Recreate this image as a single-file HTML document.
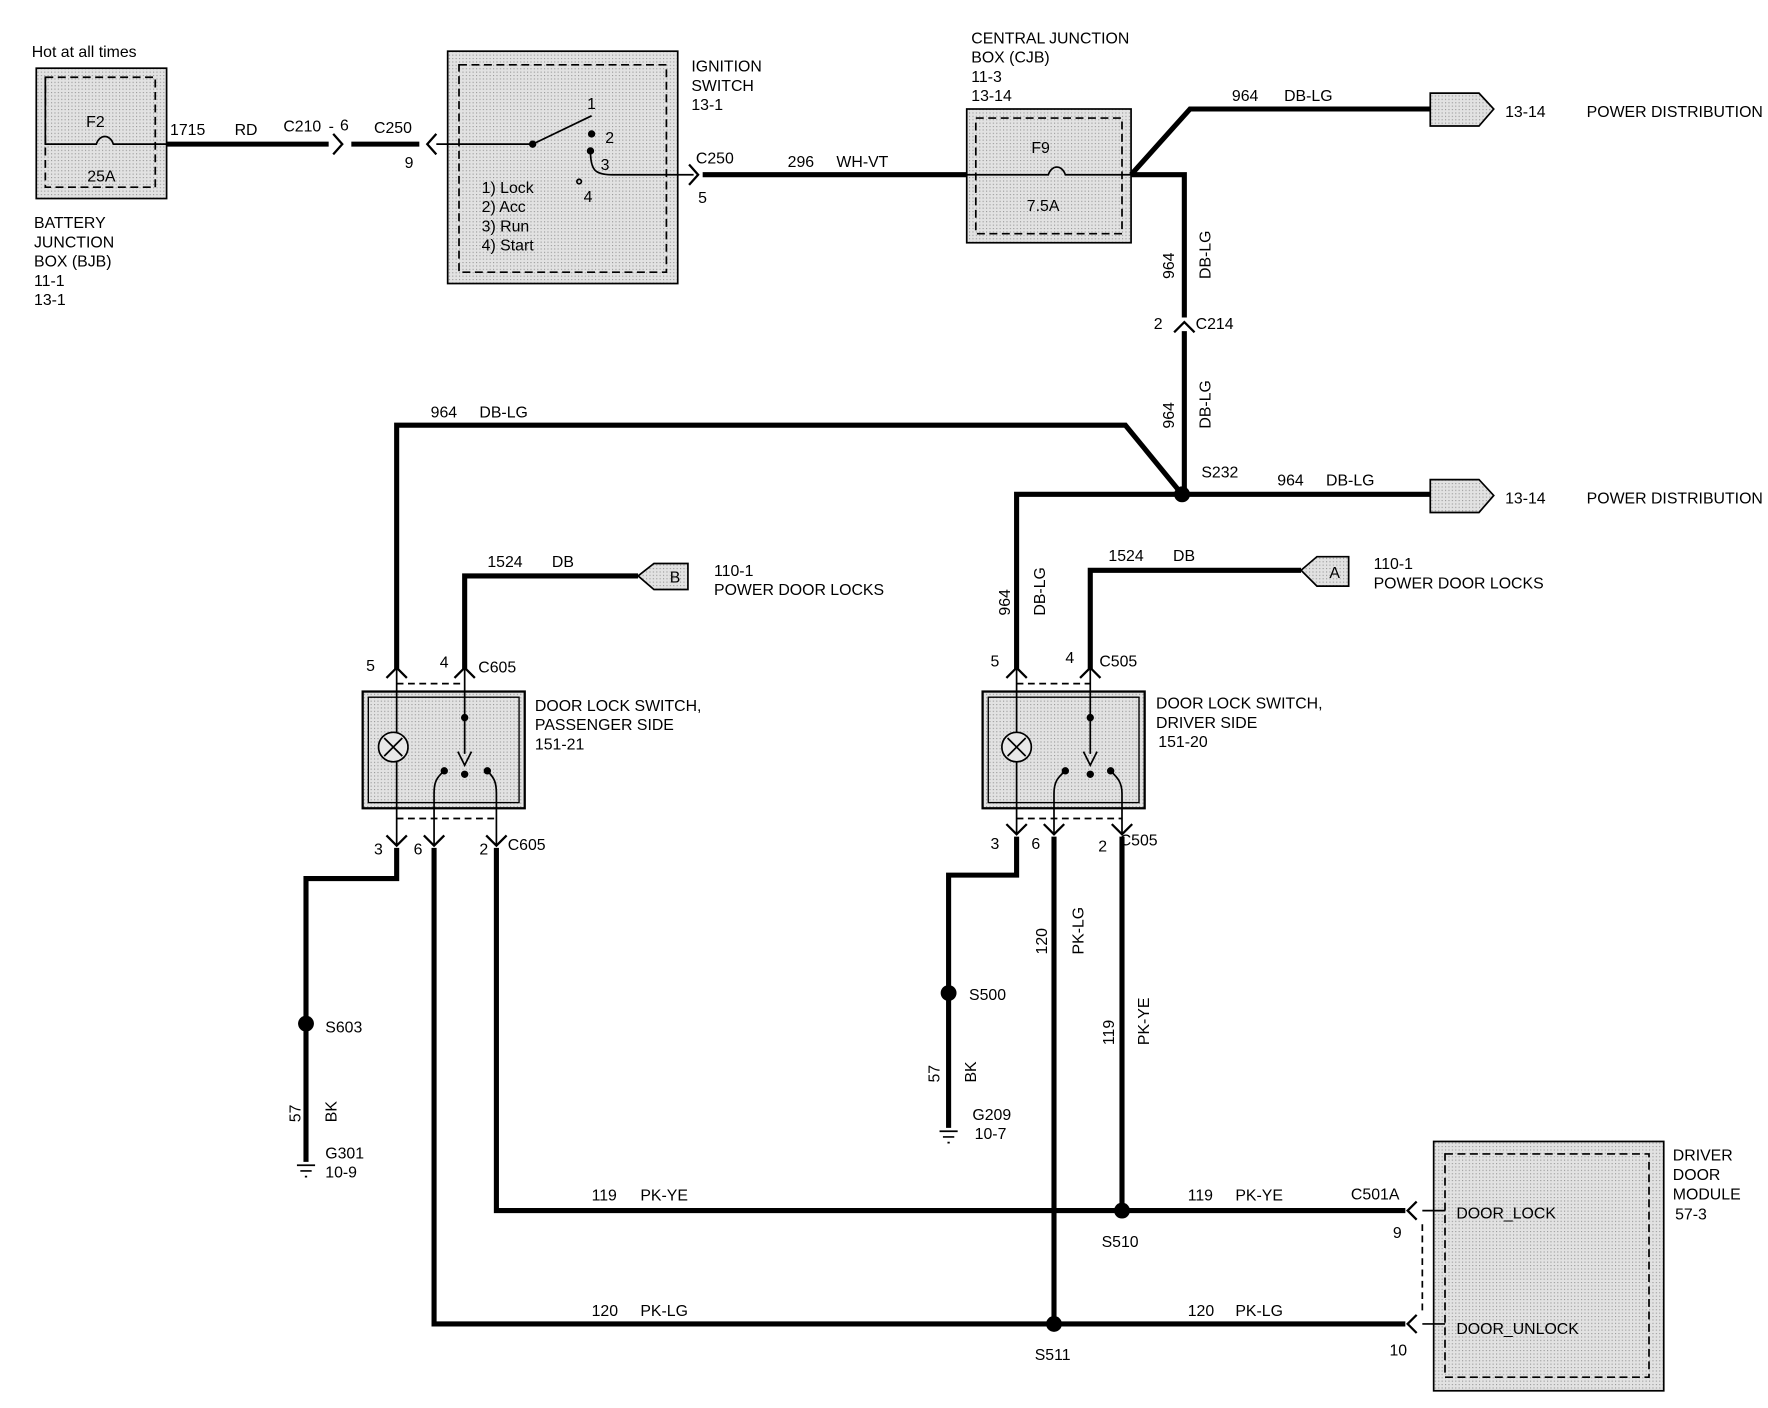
<!DOCTYPE html>
<html><head><meta charset="utf-8"><style>
html,body{margin:0;padding:0;background:#fff}
svg{display:block}
text{font-family:"Liberation Sans",Arial,sans-serif;font-size:14px;fill:#000}
</style></head><body>
<svg width="1768" height="1408" viewBox="0 0 1560 1242" xmlns="http://www.w3.org/2000/svg">
<defs>
<pattern id="dot" width="3" height="3" patternUnits="userSpaceOnUse"><rect width="3" height="3" fill="#e2e2e2"/><rect width="1" height="1" fill="#9a9a9a"/></pattern>
</defs>
<g fill="none" stroke="#000">
<!-- boxes -->
<rect x="32" y="60" width="115" height="115" fill="url(#dot)" stroke-width="1.5"/>
<rect x="40" y="68" width="97" height="97" stroke-dasharray="7,4" stroke-width="1.5"/>
<rect x="395" y="45" width="203" height="205" fill="url(#dot)" stroke-width="1.5"/>
<rect x="405" y="57" width="183" height="183" stroke-dasharray="7,4" stroke-width="1.5"/>
<rect x="853" y="96" width="145" height="118" fill="url(#dot)" stroke-width="1.5"/>
<rect x="861" y="104" width="129" height="102" stroke-dasharray="7,4" stroke-width="1.5"/>
<rect x="1265" y="1007" width="203" height="220" fill="url(#dot)" stroke-width="1.5"/>
<rect x="1275" y="1018" width="180" height="197" stroke-dasharray="7,4" stroke-width="1.5"/>
<rect x="320" y="610" width="143" height="103" fill="url(#dot)" stroke-width="2"/>
<rect x="325" y="615" width="133" height="93" stroke-width="1.2"/>
<rect x="867" y="610" width="143" height="103" fill="url(#dot)" stroke-width="2"/>
<rect x="872" y="615" width="133" height="93" stroke-width="1.2"/>
<!-- connector pentagons -->
<polygon points="1262,82 1305,82 1318,96 1305,111 1262,111" fill="url(#dot)" stroke-width="1.5"/>
<polygon points="1262,423 1305,423 1318,437 1305,452 1262,452" fill="url(#dot)" stroke-width="1.5"/>
<polygon points="563,508 577,497 607,497 607,520 577,520" fill="url(#dot)" stroke-width="1.5"/>
<polygon points="1148,503 1162,491 1190,491 1190,517 1162,517" fill="url(#dot)" stroke-width="1.5"/>

<!-- thin internal lines -->
<g stroke-width="1.5">
<path d="M40,68 V127 H85 C88,118 97,118 100,127 H147"/>
<path d="M385,127 H470 L522,102"/>
<circle cx="522" cy="118" r="2.5" fill="#000"/>
<path d="M521,133 C521,150 525,154 540,154 H612"/>
<circle cx="521" cy="133" r="2.5" fill="#000"/>
<circle cx="511" cy="160" r="2" />
<circle cx="470" cy="127" r="2.5" fill="#000"/>
<path d="M853,154 H925 C928,145 937,145 940,154 H998"/>
<path d="M1255,1068 H1275 M1255,1168 H1275"/>
<path d="M1255,1080 V1160" stroke-dasharray="6,4"/>
<!-- passenger switch internals -->
<path d="M350,590 V745 M410,590 V665 M392,680 C385,686 383,690 383,700 V745 M430,680 C436,686 438,690 438,700 V745"/>
<circle cx="347" cy="659" r="13" fill="#e8e8e8"/>
<path d="M339,651 L355,667 M355,651 L339,667"/>
<path d="M404,663 L410,675 L416,663"/>
<circle cx="410" cy="633" r="2.5" fill="#000"/><circle cx="392" cy="680" r="2.5" fill="#000"/><circle cx="430" cy="680" r="2.5" fill="#000"/><circle cx="410" cy="683" r="2.5" fill="#000"/>
<path d="M350,603 H410 M350,722 H438" stroke-dasharray="6,4"/>
<!-- driver switch internals -->
<path d="M897,590 V735 M962,590 V665 M940,680 C933,686 930,690 930,700 V735 M980,680 C986,686 990,690 990,700 V735"/>
<circle cx="897" cy="659" r="13" fill="#e8e8e8"/>
<path d="M889,651 L905,667 M905,651 L889,667"/>
<path d="M956,663 L962,675 L968,663"/>
<circle cx="962" cy="633" r="2.5" fill="#000"/><circle cx="940" cy="680" r="2.5" fill="#000"/><circle cx="980" cy="680" r="2.5" fill="#000"/><circle cx="962" cy="683" r="2.5" fill="#000"/>
<path d="M897,603 H962 M897,722 H990" stroke-dasharray="6,4"/>
<!-- grounds -->
<path d="M262,1028 H278 M265,1033 H275 M269,1038 H271"/>
<path d="M829,998 H845 M832,1003 H842 M836,1008 H838"/>
</g>

<!-- thick wires -->
<g stroke-width="4.5" stroke-linejoin="miter">
<path d="M147,127 H290 M310,127 H370"/>
<path d="M620,154 H853"/>
<path d="M998,154 L1050,96 H1262"/>
<path d="M998,154 H1045 V280 M1045,292 V436"/>
<path d="M1043,436 L993,375 H350 V590"/>
<path d="M1043,436 H1262"/>
<path d="M1043,436 H897 V590"/>
<path d="M410,590 V508 H563"/>
<path d="M962,590 V503 H1148"/>
<path d="M350,748 V775 H270 V1025"/>
<path d="M383,748 V1168 H1240"/>
<path d="M438,748 V1068 H1240"/>
<path d="M897,738 V772 H837 V995"/>
<path d="M930,738 V1168"/>
<path d="M990,738 V1068"/>
</g>
<!-- chevrons -->
<g stroke-width="2">
<path d="M294,118 L302,127 L294,136"/>
<path d="M385,118 L377,127 L385,136"/>
<path d="M608,145 L616,154 L608,163"/>
<path d="M1036,293 L1045,284 L1054,293"/>
<path d="M341,598 L350,589 L359,598 M401,598 L410,589 L419,598"/>
<path d="M888,598 L897,589 L906,598 M953,598 L962,589 L971,598"/>
<path d="M341,737 L350,746 L359,737 M374,737 L383,746 L392,737 M429,737 L438,746 L447,737"/>
<path d="M888,727 L897,736 L906,727 M921,727 L930,736 L939,727 M981,727 L990,736 L999,727"/>
<path d="M1250,1060 L1242,1068 L1250,1076 M1250,1160 L1242,1168 L1250,1176"/>
</g>
</g>
<!-- splice dots -->
<g fill="#000">
<circle cx="1043" cy="436" r="7"/>
<circle cx="270" cy="903" r="7"/>
<circle cx="837" cy="876" r="7"/>
<circle cx="990" cy="1068" r="7"/>
<circle cx="930" cy="1168" r="7"/>
</g>

<!-- text -->
<text x="28" y="50">Hot at all times</text>
<text x="76" y="112">F2</text>
<text x="77" y="160">25A</text>
<text x="30" y="201">BATTERY</text><text x="30" y="218">JUNCTION</text><text x="30" y="235">BOX (BJB)</text><text x="30" y="252">11-1</text><text x="30" y="269">13-1</text>
<text x="150" y="119">1715</text><text x="207" y="119">RD</text>
<text x="250" y="116">C210</text><text x="290" y="116">-</text><text x="300" y="115">6</text><text x="330" y="117">C250</text>
<text x="357" y="148">9</text>
<text x="518" y="96">1</text><text x="534" y="126">2</text><text x="530" y="150">3</text><text x="515" y="178">4</text>
<text x="425" y="170">1) Lock</text><text x="425" y="187">2) Acc</text><text x="425" y="204">3) Run</text><text x="425" y="221">4) Start</text>
<text x="610" y="63">IGNITION</text><text x="610" y="80">SWITCH</text><text x="610" y="97">13-1</text>
<text x="614" y="144">C250</text><text x="616" y="179">5</text>
<text x="695" y="147">296</text><text x="738" y="147">WH-VT</text>
<text x="857" y="38">CENTRAL  JUNCTION</text><text x="857" y="55">BOX (CJB)</text><text x="857" y="72">11-3</text><text x="857" y="89">13-14</text>
<text x="910" y="135">F9</text><text x="906" y="186">7.5A</text>
<text x="1087" y="89">964</text><text x="1133" y="89">DB-LG</text>
<text x="1328" y="103">13-14</text><text x="1400" y="103">POWER DISTRIBUTION</text>
<text transform="translate(1036,246) rotate(-90)">964</text>
<text transform="translate(1068,246) rotate(-90)">DB-LG</text>
<text x="1018" y="290">2</text><text x="1055" y="290">C214</text>
<text transform="translate(1036,378) rotate(-90)">964</text>
<text transform="translate(1068,378) rotate(-90)">DB-LG</text>
<text x="380" y="368">964</text><text x="423" y="368">DB-LG</text>
<text x="1060" y="421">S232</text>
<text x="1127" y="428">964</text><text x="1170" y="428">DB-LG</text>
<text x="1328" y="444">13-14</text><text x="1400" y="444">POWER DISTRIBUTION</text>
<text transform="translate(891,543) rotate(-90)">964</text>
<text transform="translate(922,543) rotate(-90)">DB-LG</text>
<text x="430" y="500">1524</text><text x="487" y="500">DB</text>
<text x="591" y="514" font-size="12">B</text>
<text x="630" y="508">110-1</text><text x="630" y="525">POWER DOOR LOCKS</text>
<text x="978" y="495">1524</text><text x="1035" y="495">DB</text>
<text x="1173" y="510" font-size="12">A</text>
<text x="1212" y="502">110-1</text><text x="1212" y="519">POWER DOOR LOCKS</text>
<text x="323" y="592">5</text><text x="388" y="589">4</text><text x="422" y="593">C605</text>
<text x="472" y="627">DOOR LOCK SWITCH,</text><text x="472" y="644">PASSENGER SIDE</text><text x="472" y="661">151-21</text>
<text x="330" y="754">3</text><text x="365" y="754">6</text><text x="423" y="754">2</text><text x="448" y="750">C605</text>
<text x="874" y="588">5</text><text x="940" y="585">4</text><text x="970" y="588">C505</text>
<text x="1020" y="625">DOOR LOCK SWITCH,</text><text x="1020" y="642">DRIVER SIDE</text><text x="1022" y="659">151-20</text>
<text x="874" y="749">3</text><text x="910" y="749">6</text><text x="969" y="751">2</text><text x="988" y="746">C505</text>
<text x="287" y="911">S603</text>
<text transform="translate(265,990) rotate(-90)">57</text>
<text transform="translate(297,990) rotate(-90)">BK</text>
<text x="287" y="1022">G301</text><text x="287" y="1039">10-9</text>
<text x="855" y="882">S500</text>
<text transform="translate(829,955) rotate(-90)">57</text>
<text transform="translate(861,955) rotate(-90)">BK</text>
<text x="858" y="988">G209</text><text x="860" y="1005">10-7</text>
<text transform="translate(924,842) rotate(-90)">120</text>
<text transform="translate(956,842) rotate(-90)">PK-LG</text>
<text transform="translate(983,922) rotate(-90)">119</text>
<text transform="translate(1014,922) rotate(-90)">PK-YE</text>
<text x="522" y="1059">119</text><text x="565" y="1059">PK-YE</text>
<text x="522" y="1161">120</text><text x="565" y="1161">PK-LG</text>
<text x="1048" y="1059">119</text><text x="1090" y="1059">PK-YE</text>
<text x="1048" y="1161">120</text><text x="1090" y="1161">PK-LG</text>
<text x="1192" y="1058">C501A</text>
<text x="1229" y="1092">9</text><text x="1226" y="1196">10</text>
<text x="972" y="1100">S510</text><text x="913" y="1200">S511</text>
<text x="1285" y="1075">DOOR_LOCK</text><text x="1285" y="1177">DOOR_UNLOCK</text>
<text x="1476" y="1024">DRIVER</text><text x="1476" y="1041">DOOR</text><text x="1476" y="1058">MODULE</text><text x="1478" y="1076">57-3</text>
</svg>
</body></html>
